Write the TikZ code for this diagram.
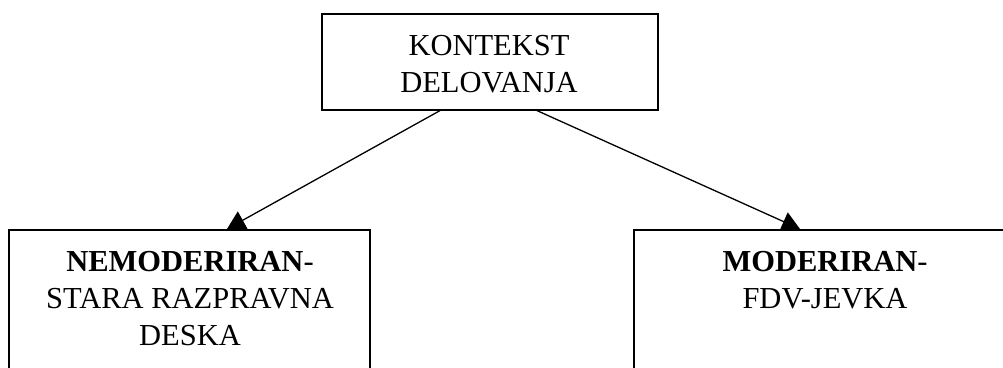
\documentclass[tikz,border=0pt]{standalone}
\usepackage{fontspec}
\setmainfont{Liberation Serif}
\usetikzlibrary{arrows.meta,calc}
\begin{document}
\begin{tikzpicture}[x=1pt,y=-1pt,
  boxst/.style={draw=black, line width=1.6pt, fill=none, inner sep=0pt, anchor=north west},
  txt/.style={inner sep=0pt, align=center, anchor=north, font=\fontsize{30.5}{37}\selectfont},
  conn/.style={draw=black, line width=1.3pt, -{Triangle[length=18pt,width=20pt]}}]
\useasboundingbox (0,0) rectangle (1003,367);
\clip (0,0) rectangle (1003,367);
\node[boxst, minimum width=336pt, minimum height=96pt] (top) at (321,13) {};
\node[boxst, minimum width=361pt, minimum height=160pt] (left) at (8,229) {};
\node[boxst, minimum width=384pt, minimum height=160pt] (right) at (633,229) {};
\node[txt] (toptxt) at (489,35) {KONTEKST\\DELOVANJA};
\node[txt] (lefttxt) at (190,251) {\textbf{NEMODERIRAN}-\\STARA RAZPRAVNA\\DESKA};
\node[txt] (righttxt) at (825,251) {\textbf{MODERIRAN}-\\FDV-JEVKA};
\draw[conn] ($(top.south west)+(119,0)$) -- ($(left.north west)+(219,0)$);
\draw[conn] ($(top.south west)+(216,0)$) -- ($(right.north west)+(167,0)$);
\end{tikzpicture}
\end{document}
